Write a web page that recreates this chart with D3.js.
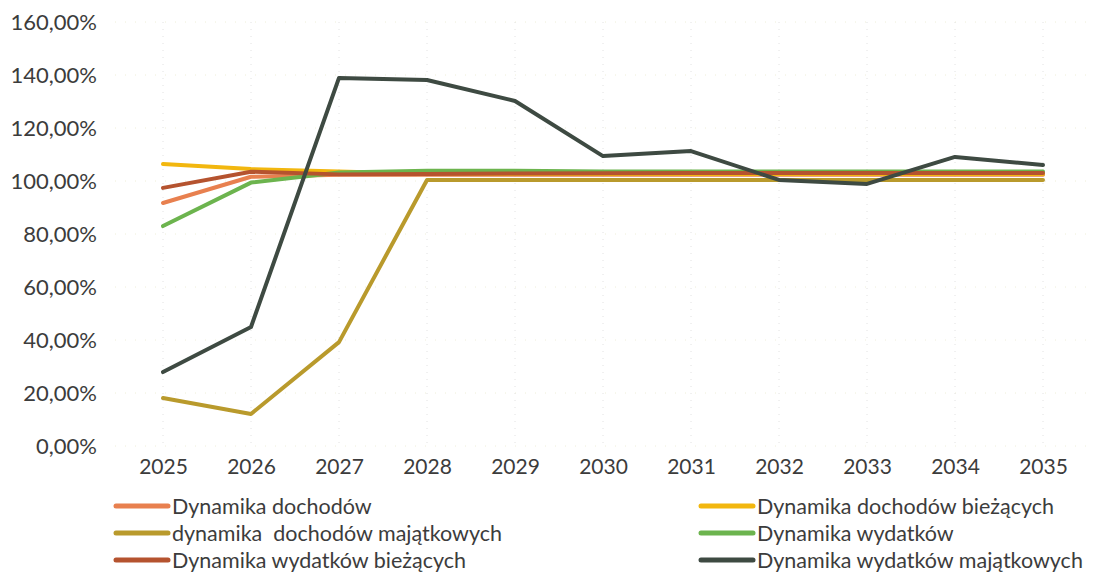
<!DOCTYPE html>
<html>
<head>
<meta charset="utf-8">
<script src="https://cdn.jsdelivr.net/npm/d3@7"></script>
<style>
  body { margin: 0; background: #fff; }
  text { font-family: Lato, "Open Sans", sans-serif; fill: #3c3c3c; }
</style>
</head>
<body>
<svg width="1096" height="574"></svg>
<script>
var years = [2025, 2026, 2027, 2028, 2029, 2030, 2031, 2032, 2033, 2034, 2035];
var yTicks = [0, 20, 40, 60, 80, 100, 120, 140, 160];

var dochody        = [91.7, 101.6, 102.4, 102.4, 102.4, 102.4, 102.4, 102.4, 102.4, 102.4, 102.4];
var dochodyBiez    = [106.4, 104.5, 103.6, 102.6, 102.6, 102.6, 102.6, 102.6, 102.6, 102.6, 102.6];
var dochodyMaj     = [18.1, 12.1, 39.2, 100.4, 100.4, 100.4, 100.4, 100.4, 100.4, 100.4, 100.4];
var wydatki        = [83.0, 99.4, 103.2, 103.9, 103.9, 103.6, 103.6, 103.6, 103.6, 103.6, 103.6];
var wydatkiBiez    = [97.4, 103.5, 102.5, 102.6, 102.8, 102.9, 103.0, 103.0, 103.0, 103.0, 103.0];
var wydatkiMaj     = [27.9, 44.9, 138.9, 138.1, 130.2, 109.4, 111.3, 100.4, 98.9, 109.1, 106.0];

var series = [
    {name: 'Dynamika dochodów', values: dochody, color: '#e8804f'},
    {name: 'Dynamika dochodów bieżących', values: dochodyBiez, color: '#f2b70f'},
    {name: 'dynamika  dochodów majątkowych', values: dochodyMaj, color: '#b99a2c'},
    {name: 'Dynamika wydatków', values: wydatki, color: '#6cb44e'},
    {name: 'Dynamika wydatków bieżących', values: wydatkiBiez, color: '#b5532f'},
    {name: 'Dynamika wydatków majątkowych', values: wydatkiMaj, color: '#3e4a42'}
];

var svg = d3.select('svg');

//scales
var xScale = d3.scalePoint()
    .domain(years)
    .range([163, 1043]);
var yScale = d3.scaleLinear()
    .domain([0, 160])
    .range([446, 22]);

//faint grid
svg.append('g')
    .selectAll('line')
    .data(yTicks)
    .enter().append('line')
    .attr('x1', 115).attr('x2', 1090)
    .attr('y1', d => yScale(d)).attr('y2', d => yScale(d))
    .attr('stroke', '#eeeed8')
    .attr('stroke-dasharray', '1,9');
svg.append('g')
    .selectAll('line')
    .data(years)
    .enter().append('line')
    .attr('x1', d => xScale(d)).attr('x2', d => xScale(d))
    .attr('y1', yScale(160)).attr('y2', yScale(0))
    .attr('stroke', '#e2e2e2')
    .attr('stroke-dasharray', '1,6');

// axes
var yAxis = d3.axisLeft(yScale)
    .tickValues(yTicks)
    .tickSize(0)
    .tickPadding(0)
    .tickFormat(d => d3.format('.2f')(d).replace('.', ',') + '%');
var gy = svg.append('g')
    .attr('transform', 'translate(' + [97, 0] + ')')
    .call(yAxis);
gy.select('.domain').remove();
gy.selectAll('text').style('font-size', '22px').attr('fill', '#3c3c3c');

var xAxis = d3.axisBottom(xScale)
    .tickSize(0)
    .tickPadding(0)
    .tickFormat(d3.format('d'));
var gx = svg.append('g')
    .attr('transform', 'translate(' + [0, 459] + ')')
    .call(xAxis);
gx.select('.domain').remove();
gx.selectAll('text').style('font-size', '21px').attr('fill', '#3c3c3c');

// lines
var line = d3.line()
    .x((d, i) => xScale(years[i]))
    .y(d => yScale(d));

svg.append('g')
    .selectAll('path')
    .data(series)
    .enter().append('path')
    .attr('d', d => line(d.values))
    .attr('fill', 'none')
    .attr('stroke', d => d.color)
    .attr('stroke-width', 4)
    .attr('stroke-linejoin', 'round')
    .attr('stroke-linecap', 'round');

// legend
var legend = svg.append('g')
    .selectAll('g')
    .data(series)
    .enter().append('g')
    .attr('transform', (d, i) => 'translate(' + [i % 2 === 0 ? 116 : 701, 506 + Math.floor(i / 2) * 27] + ')');
legend.append('line')
    .attr('x1', 0).attr('x2', 52)
    .attr('stroke', d => d.color)
    .attr('stroke-width', 5)
    .attr('stroke-linecap', 'round');
legend.append('text')
    .attr('x', 56)
    .attr('dy', '0.35em')
    .style('font-size', '21.5px')
    .style('white-space', 'pre')
    .text(d => d.name);
</script>
</body>
</html>
